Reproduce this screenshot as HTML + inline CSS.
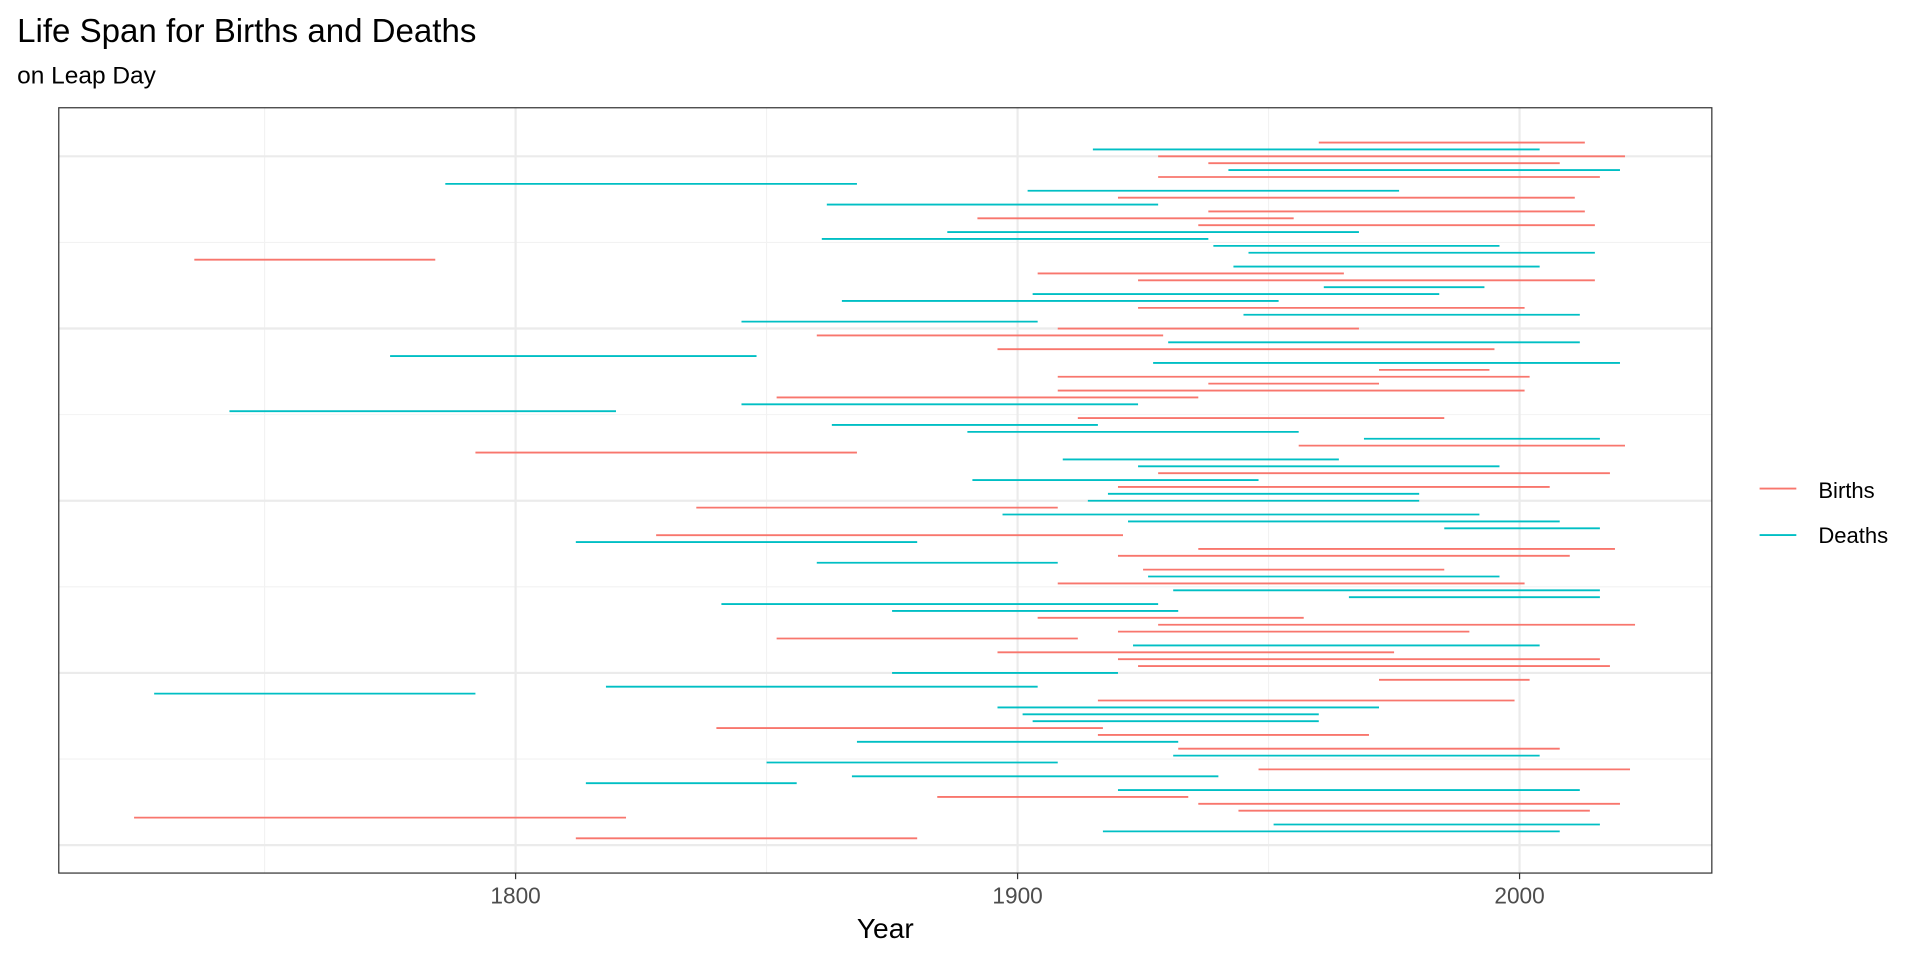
<!DOCTYPE html>
<html><head><meta charset="utf-8"><style>
body{margin:0;background:#fff;font-family:"Liberation Sans",sans-serif;}
svg{display:block;}
</style></head><body>
<svg id="chart" width="1920" height="960" viewBox="0 0 1568 784" preserveAspectRatio="none" xmlns="http://www.w3.org/2000/svg" font-family="Liberation Sans, sans-serif">
<text x="14" y="34.5" font-size="27" fill="#000">Life Span for Births and Deaths</text>
<text x="14" y="68" font-size="20" fill="#000">on Leap Day</text>
<g id="grid"></g>
<g id="marks"></g>
<rect x="48" y="88" width="1350" height="625" fill="none" stroke="#333" stroke-width="1"/>
<g id="axis"></g>
<text x="723" y="766" font-size="23" text-anchor="middle" fill="#000">Year</text>
<g>
<line x1="1437" y1="399" x2="1467" y2="399" stroke="#F8766D" stroke-width="1.5"/>
<text x="1485" y="406.5" font-size="18">Births</text>
<line x1="1437" y1="437" x2="1467" y2="437" stroke="#00BFC4" stroke-width="1.5"/>
<text x="1485" y="443.5" font-size="18">Deaths</text>
</g>
</svg>
<script>
const types = ["B","D","B","B","D","B","D","D","B","D","B","B","B","D","D","D","D","B","D","B","B","D","D","D","B","D","D","B","B","D","B","D","D","B","B","B","B","B","D","D","B","D","D","D","B","B","D","D","B","D","B","D","D","B","D","D","D","B","D","B","B","D","B","D","B","D","D","D","D","B","B","B","B","D","B","B","B","D","B","D","D","B","D","D","D","B","B","D","B","D","D","B","D","D","D","B","B","B","B","D","D","B"];
const starts = [1960,1915,1928,1938,1942,1928,1786,1902,1920,1862,1938,1892,1936,1886,1861,1939,1946,1736,1943,1904,1924,1961,1903,1865,1924,1945,1845,1908,1860,1930,1896,1775,1927,1972,1908,1938,1908,1852,1845,1743,1912,1863,1890,1969,1956,1792,1909,1924,1928,1891,1920,1918,1914,1836,1897,1922,1985,1828,1812,1936,1920,1860,1925,1926,1908,1931,1966,1841,1875,1904,1928,1920,1852,1923,1896,1920,1924,1875,1972,1818,1728,1916,1896,1901,1903,1840,1916,1868,1932,1931,1850,1948,1867,1814,1920,1884,1936,1944,1724,1951,1917,1812];
const ends = [2013,2004,2021,2008,2020,2016,1868,1976,2011,1928,2013,1955,2015,1968,1938,1996,2015,1784,2004,1965,2015,1993,1984,1952,2001,2012,1904,1968,1929,2012,1995,1848,2020,1994,2002,1972,2001,1936,1924,1820,1985,1916,1956,2016,2021,1868,1964,1996,2018,1948,2006,1980,1980,1908,1992,2008,2016,1921,1880,2019,2010,1908,1985,1996,2001,2016,2016,1928,1932,1957,2023,1990,1912,2004,1975,2016,2018,1920,2002,1904,1792,1999,1972,1960,1960,1917,1970,1932,2008,2004,1908,2022,1940,1856,2012,1934,2020,2014,1822,2016,2008,1880];
const xTicks = [1800,1900,2000];
const xMinor = [1750,1850,1950];
const yMajor = [0,25,50,75,100];
const yMinor = [12.5,37.5,62.5,87.5];

const NS="http://www.w3.org/2000/svg";
const PL=48,PR=1398,PT=88,PB=713;
const X0=1709,X1=2038.3,Y0=-4.05,Y1=107.05;
function x(v){return PL+(v-X0)/(X1-X0)*(PR-PL);}
function y(v){return PB-(v-Y0)/(Y1-Y0)*(PB-PT);}
function mk(tag,attrs,parent){const e=document.createElementNS(NS,tag);for(const k in attrs)e.setAttribute(k,attrs[k]);parent.appendChild(e);return e;}
const grid=document.getElementById('grid');
xMinor.forEach(v=>{const l=mk('line',{x1:x(v),x2:x(v),y1:PT,y2:PB,stroke:'#f2f2f2','stroke-width':0.9},grid);

});
yMinor.forEach(v=>{const l=mk('line',{x1:PL,x2:PR,y1:y(v),y2:y(v),stroke:'#f2f2f2','stroke-width':0.9},grid);

});
xTicks.forEach(v=>{const l=mk('line',{x1:x(v),x2:x(v),y1:PT,y2:PB,stroke:'#ebebeb','stroke-width':1.8},grid);

});
yMajor.forEach(v=>{const l=mk('line',{x1:PL,x2:PR,y1:y(v),y2:y(v),stroke:'#ebebeb','stroke-width':1.8},grid);

});
const axis=document.getElementById('axis');
xTicks.forEach(v=>{const t=mk('line',{x1:x(v),x2:x(v),y1:PB,y2:PB+5,stroke:'#333','stroke-width':1},axis);


const l=mk('text',{x:x(v),y:738,'font-size':18.5,'text-anchor':'middle',fill:'#4d4d4d'},axis);


l.textContent=v;});
const marks=document.getElementById('marks');
const n=types.length;
for(let i=0;i<n;i++){const idx=n-i;
const s=mk('line',{x1:x(starts[i]),x2:x(ends[i]),y1:y(idx),y2:y(idx),stroke:types[i]==="B"?"#F8766D":"#00BFC4",'stroke-width':1.5},marks);

}
</script>
</body></html>
